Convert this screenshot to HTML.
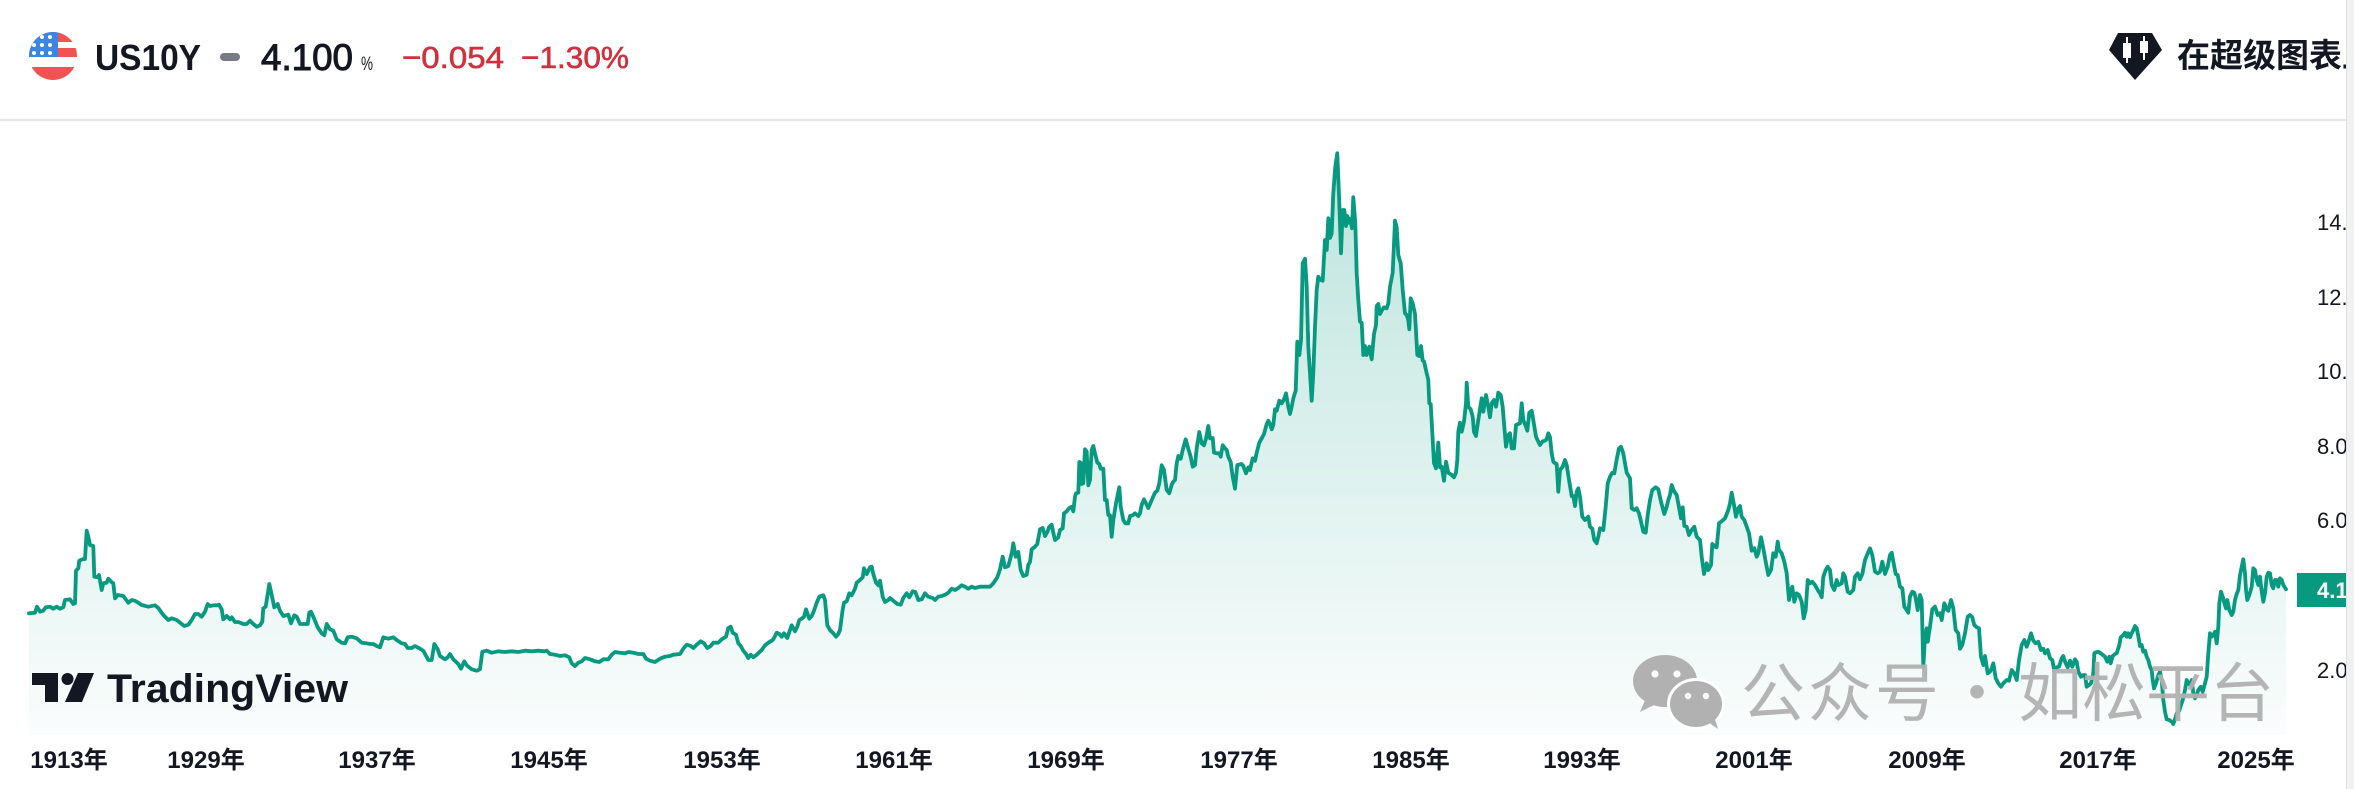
<!DOCTYPE html>
<html><head><meta charset="utf-8">
<style>
html,body{margin:0;padding:0;background:#fff;}
body{width:2354px;height:789px;overflow:hidden;}
svg{display:block;}
.lat{font-family:"Liberation Sans","Noto Sans CJK SC",sans-serif;}
.cjk{font-family:"Noto Sans CJK SC","WenQuanYi Zen Hei",sans-serif;}
</style></head>
<body>
<svg id="s" width="2354" height="789" viewBox="0 0 2354 789" xmlns="http://www.w3.org/2000/svg">
<defs>
<linearGradient id="fg" gradientUnits="userSpaceOnUse" x1="0" y1="150" x2="0" y2="735">
<stop offset="0" stop-color="#089981" stop-opacity="0.27"/>
<stop offset="1" stop-color="#089981" stop-opacity="0.02"/>
</linearGradient>
<clipPath id="fc"><circle cx="53" cy="56" r="24"/></clipPath>
</defs>
<rect x="0" y="0" width="2354" height="789" fill="#fff"/>

<!-- header -->
<g clip-path="url(#fc)">
<rect x="28" y="31" width="52" height="50" fill="#ffffff"/>
<rect x="28" y="31" width="52" height="11" fill="#f15353"/>
<rect x="28" y="48" width="52" height="9" fill="#f15353"/>
<rect x="28" y="67" width="52" height="14" fill="#f15353"/>
<rect x="28" y="31" width="30" height="26" fill="#3a86e2"/>
<g fill="#fff">
<circle cx="34" cy="37" r="2"/><circle cx="42" cy="37" r="2"/><circle cx="50" cy="37" r="2"/>
<circle cx="34" cy="45" r="2"/><circle cx="42" cy="45" r="2"/><circle cx="50" cy="45" r="2"/>
<circle cx="34" cy="53" r="2"/><circle cx="42" cy="53" r="2"/><circle cx="50" cy="53" r="2"/>
</g>
</g>
<text class="lat" x="95" y="70" font-size="36" font-weight="bold" fill="#131722" textLength="106" lengthAdjust="spacingAndGlyphs">US10Y</text>
<rect x="220" y="53" width="20" height="8" rx="4" fill="#787b86"/>
<text class="lat" x="261" y="70" font-size="37" fill="#131722" textLength="92" lengthAdjust="spacingAndGlyphs" stroke="#131722" stroke-width="1">4.100</text>
<text class="lat" x="361" y="70" font-size="19" fill="#131722" textLength="12" lengthAdjust="spacingAndGlyphs">%</text>
<text class="lat" x="402" y="68" font-size="31" fill="#cf313e" textLength="102" lengthAdjust="spacingAndGlyphs" stroke="#cf313e" stroke-width="0.6">−0.054</text>
<text class="lat" x="521" y="68" font-size="31" fill="#cf313e" textLength="108" lengthAdjust="spacingAndGlyphs" stroke="#cf313e" stroke-width="0.6">−1.30%</text>

<polygon points="2118,33 2152,33 2162,50 2135,80 2109,50" fill="#131722"/>
<g fill="#fff">
<rect x="2126" y="37" width="2" height="26"/><rect x="2123" y="43" width="8" height="15"/>
<rect x="2143" y="36" width="2" height="24"/><rect x="2140" y="41" width="8" height="12"/>
</g>
<text class="cjk" x="2177" y="67" font-size="33" font-weight="bold" fill="#131722">在超级图表上打开</text>

<rect x="0" y="119" width="2354" height="2" fill="#e6e6e9"/>

<!-- series -->
<path id="fillp" d="" fill="url(#fg)"/>
<path id="linep" d="" fill="none" stroke="#089981" stroke-width="3.8" stroke-linejoin="round" stroke-linecap="round"/>

<!-- TradingView logo -->
<g fill="#131722">
<rect x="32" y="673" width="26" height="12"/>
<rect x="45" y="673" width="13" height="29"/>
<circle cx="67.5" cy="679" r="6"/>
<polygon points="78,673 94,673 82,702 65,702"/>
</g>
<text class="lat" x="107" y="702" font-size="40" font-weight="bold" fill="#131722" textLength="241" lengthAdjust="spacingAndGlyphs">TradingView</text>

<!-- watermark -->
<g>
<ellipse cx="1665" cy="681" rx="32" ry="26" fill="#b1b1b1"/>
<polygon points="1646,698 1640,712 1658,703" fill="#b1b1b1"/>
<circle cx="1655" cy="674" r="3.6" fill="#fff"/>
<circle cx="1677" cy="674" r="3.6" fill="#fff"/>
<ellipse cx="1696" cy="704" rx="29" ry="26" fill="#fff"/>
<ellipse cx="1696" cy="704" rx="26" ry="23" fill="#b1b1b1"/>
<polygon points="1708,722 1718,729 1714,716" fill="#b1b1b1"/>
<circle cx="1688" cy="696" r="3.2" fill="#fff"/>
<circle cx="1706" cy="696" r="3.2" fill="#fff"/>
</g>
<g class="cjk" fill="#b0b0b0" font-size="64" fill-opacity="0.95">
<text x="1741" y="716" letter-spacing="3">公众号</text>
<text x="1977" y="716" text-anchor="middle">·</text>
<text x="2018" y="716">如松平台</text>
</g>

<!-- price axis -->
<g class="lat" font-size="22" fill="#131722">
<text x="2317" y="230">14.00</text>
<text x="2317" y="305">12.00</text>
<text x="2317" y="379">10.00</text>
<text x="2317" y="454">8.00</text>
<text x="2317" y="528">6.00</text>
<text x="2317" y="678">2.00</text>
</g>
<rect x="2297" y="573" width="60" height="34" fill="#089981"/>
<text class="lat" x="2317" y="598" font-size="22" fill="#fff" font-weight="bold">4.100</text>

<!-- time axis -->
<g class="lat" font-size="24" font-weight="bold" fill="#131722" text-anchor="middle">
<text x="69" y="768">1913年</text>
<text x="206" y="768">1929年</text>
<text x="377" y="768">1937年</text>
<text x="549" y="768">1945年</text>
<text x="722" y="768">1953年</text>
<text x="894" y="768">1961年</text>
<text x="1066" y="768">1969年</text>
<text x="1239" y="768">1977年</text>
<text x="1411" y="768">1985年</text>
<text x="1582" y="768">1993年</text>
<text x="1754" y="768">2001年</text>
<text x="1927" y="768">2009年</text>
<text x="2098" y="768">2017年</text>
<text x="2256" y="768">2025年</text>
</g>

<!-- scrollbar -->
<rect x="2346" y="0" width="8" height="789" fill="#f1f1f1"/>
<rect x="2346" y="0" width="1" height="789" fill="#e2e2e2"/>
</svg>
<script>
(function(){
var segs=[
[25,480,[12,400,30,398,36,380,45,395,55,392,62,382,75,380,85,386,95,380,105,386,115,382,120,360,135,358,145,372,150,370,153,272,160,265,163,242,172,238,180,237,185,152,190,170,195,195,205,198,208,290,218,292,222,285,230,330,235,310,245,308,250,296,258,305,265,310,270,355,278,345,295,348,310,368,320,360,330,362,340,368,350,375,370,380,390,376,400,384,415,405,430,420,440,415,455,420,470,432,478,438,490,434,500,420,510,402,520,402,530,410,540,395,548,372,555,378,565,376,575,376,582,374,590,388,595,418,605,408,615,418,620,412,630,426,640,426,655,432,665,432,675,422,685,432,695,440,705,436,712,425,715,385,722,380,733,312,740,345,748,382,758,372,765,392,775,408,790,404,798,430,808,406,815,410,825,432,835,432,848,432,853,398,858,395,865,410,878,442,890,460,898,466,905,432,915,448,925,452,935,478,950,488,960,490,968,472,980,470,995,475,1010,488,1025,490,1035,492,1045,492,1055,498,1065,502,1075,472,1090,476,1105,472,1115,480,1130,490,1140,492,1148,504,1160,504,1170,498,1185,506,1195,512,1210,540,1220,540,1228,492,1238,508,1245,528,1260,538,1268,532,1275,522,1285,538,1300,552,1308,566,1318,544,1325,556,1340,568,1355,572,1365,568,1372,515,1385,512,1400,518,1420,514,1440,516,1460,514,1480,516,1500,512,1520,514,1540,512,1558,514]],
[540,400,[0,752,20,752,30,762,45,764,60,768,75,766,88,772,95,790,105,798,115,788,125,784,135,774,150,778,165,784,178,786,190,778,205,778,215,764,225,756,240,758,255,760,265,756,280,758,295,762,310,762,318,776,330,782,345,786,360,776,375,770,390,768,400,764,420,762,430,746,440,734,452,738,460,744,470,734,482,724,492,730,502,744,512,738,520,728,535,728,545,718,558,710,565,684,572,680,578,698,588,704,595,730,602,738,610,752,618,762,625,774,632,764,640,772,650,764,665,750,675,736,685,728,695,722,700,718,710,698,718,702,725,710,732,700,742,714,750,690,755,676,765,694,772,680,778,660,785,656,792,650,798,628,808,656,815,648,822,632,830,608,838,590,850,586,855,600,862,676,870,690,880,700,888,710,895,702,900,690,908,628,912,608,920,604,928,580,935,586,945,566,950,548,960,540,968,532,972,505,980,522,990,502,995,500,1000,522,1008,548,1015,556,1020,542,1028,590,1035,606,1045,600,1050,594,1062,604,1072,612,1082,614,1090,594,1100,580,1108,592,1118,574,1126,576,1135,600,1145,598,1155,580,1165,590,1178,594,1185,600,1195,590,1205,588,1215,584,1225,578,1235,566,1245,570,1255,564,1265,556,1275,560,1285,566,1295,560,1305,564,1320,560,1335,560,1350,560,1360,550,1372,532,1380,508,1388,470,1395,502,1405,498,1415,460,1420,430,1427,470,1435,456,1442,510,1450,528,1460,524,1465,494,1470,486,1475,448,1485,440,1492,432,1500,388,1508,384,1515,408,1522,396,1528,380,1535,374,1540,398,1545,420,1555,412,1560,390]],
[1060,140,[0,1190,8,1165,12,1120,20,1114,28,1104,35,1100,40,1114,45,1070,48,1060,55,1058,58,966,62,968,65,1032,70,1030,75,928,80,935,85,1036,90,1020,95,930,100,918,105,940,112,968,118,972,122,986,130,986,135,1080,140,1080,145,1125,150,1126,155,1190,160,1140,168,1090,178,1042,182,1100,190,1140,196,1150,205,1150,210,1128,218,1126,225,1120,235,1128,240,1120,245,1094,252,1078,258,1090,265,1104,275,1080,285,1058,292,1052,298,1030,305,976,312,990,320,1050,328,1060,335,1034,340,1025,345,1020,350,970,355,948,362,956,368,930,377,898,385,926,392,950,398,980,405,975,410,925,418,876,425,910,432,916,438,896,445,858,450,895,458,894,462,938,470,940,478,940,482,950,488,916,495,925,500,930,505,950,512,966,518,1010,525,1046,532,975,545,972,550,978,558,1000,565,982,570,990,578,955,585,962,590,938,598,908,605,895,612,882,620,852,625,842,630,852,635,868,640,855,645,808,650,812,658,782,665,790,672,778,678,760,685,800,690,822,695,800,700,775,707,752,712,605,718,645,723,600,728,370,735,356,740,440,745,620,750,700,755,782,760,700,765,560,770,450,775,410,782,420,788,422,795,300,800,330,805,235,810,294,815,280,820,160,826,80,832,40,838,190,843,340,848,210,853,210,858,258,862,228,866,248,870,236,876,265,880,172,886,250,890,400,895,480,900,545,905,548,910,645,915,618,920,645,928,620,935,658,942,582,948,555,950,498,955,492,960,522,965,512,972,502,980,505,985,490,990,440,998,398,1005,242,1010,262,1015,345,1022,370,1028,450,1035,520,1040,525,1045,540,1048,568,1052,475,1058,490,1065,522,1070,612,1072,645,1078,648,1083,618,1088,662,1092,664,1100,700,1105,720,1108,790,1112,792,1118,900,1122,970,1128,985,1135,908,1140,982,1145,980,1152,1022,1158,965,1165,998,1175,1005,1182,1012,1188,998,1192,960,1195,875,1200,848,1205,875,1212,845,1218,790,1220,728,1225,800,1232,808,1238,830,1242,876,1248,888,1252,860,1258,820,1265,775,1270,815,1278,765,1285,800,1290,832,1295,790,1302,780,1308,800,1315,758,1322,765,1328,800,1332,850,1338,920,1345,885,1350,880,1355,925,1362,925,1368,855,1375,852,1380,850,1385,790,1390,840,1398,860,1402,872,1408,818,1415,812,1420,840,1428,890,1435,905,1440,915,1448,904,1455,902,1460,898,1465,880,1470,892,1475,940,1480,965,1485,970,1490,972,1495,1055,1500,990,1508,980,1515,960,1520,975,1528,1025,1535,1068,1540,1068,1545,1098,1550,1055,1555,1045,1560,1070]],
[1575,420,[0,255,8,205,15,230,22,290,30,300,40,290,45,320,52,326,58,360,65,370,70,350,75,325,85,330,92,260,98,190,105,170,112,158,118,160,125,118,132,85,138,80,145,100,150,130,155,158,165,175,170,265,178,270,185,265,192,280,198,305,205,335,212,338,218,285,225,240,232,210,242,202,250,208,258,245,268,282,275,260,280,240,285,225,290,195,298,215,305,225,312,262,318,295,323,262,328,318,335,320,342,345,350,330,358,320,365,350,375,360,380,410,387,462,395,430,400,450,408,435,412,372,420,380,425,382,432,310,442,302,450,295,460,270,465,250,470,218,478,260,483,290,490,265,495,258,500,290,508,300,515,320,522,340,530,392,538,385,545,410,550,400,558,352,565,385,572,425,580,465,588,450,595,400,602,410,608,365,612,390,620,400,628,425,635,460,642,540,648,512,652,500,658,545,665,520,672,525,680,545,686,595,692,570,698,480,705,490,712,485,720,495,728,510,735,520,740,532,745,470,752,450,758,440,765,450,770,495,778,510,785,480,790,495,800,490,805,460,810,470,818,515,825,520,835,510,840,470,848,460,855,478,862,462,870,420,878,400,885,385,892,405,900,455,908,460,915,455,922,425,930,462,938,440,945,405,950,398,958,440,962,462,968,465,975,500,982,505,988,560,995,570,1000,578,1005,530,1012,515,1018,518,1022,535,1028,570,1035,525,1040,540,1045,740,1050,650,1055,625,1058,665,1065,620,1072,568,1080,560,1088,585,1095,580,1100,600,1108,550,1115,568,1120,572,1128,540,1135,565,1142,630,1150,640,1155,686,1162,675,1170,640,1178,590,1185,585,1192,592,1198,615,1205,622,1212,625,1218,710,1225,735,1230,708,1238,760,1245,755,1250,745,1255,730,1262,775,1270,790,1278,800,1285,790,1295,780,1302,782,1310,750,1318,760,1325,780,1332,720,1340,675,1348,660,1355,680,1362,660,1368,640,1375,662,1382,670,1390,665,1398,690,1405,686,1410,700,1418,690,1425,715,1432,720,1438,752,1445,742,1452,740,1460,715,1465,708,1470,725,1478,742,1485,722,1492,740,1500,718,1505,725,1510,755,1518,770,1525,765,1530,765,1535,800,1542,795,1548,790,1555,760,1558,700]],
[2090,520,[0,490,8,440,15,398,25,395,35,402,45,410,52,425,58,410,62,430,68,408,75,402,80,400,88,375,92,352,100,345,105,338,110,350,115,340,120,352,125,340,130,330,135,318,140,325,145,348,150,378,155,375,160,395,165,392,170,410,175,420,180,440,185,450,188,480,192,505,198,490,205,465,210,455,215,480,220,540,225,575,230,598,238,600,245,605,250,612,255,598,260,580,268,572,272,558,278,540,285,510,290,480,295,490,300,495,305,480,310,520,315,535,320,525,325,510,332,500,338,515,345,490,350,470,355,400,360,340,365,350,370,345,375,335,380,370,385,320,388,250,393,215,398,230,402,245,408,265,412,240,418,270,425,285,430,275,435,240,440,222,445,210,450,165,455,140,460,118,465,160,468,210,472,240,478,225,485,200,490,145,495,150,500,180,505,195,510,170,515,215,520,245,525,220,530,170,535,158,540,160,545,195,550,205,555,180,560,180,565,200,570,175,575,180,580,195,588,208]]
];
var pts=[],lastX=-1e9;
for(var s=0;s<segs.length;s++){
  var x0=segs[s][0],y0=segs[s][1],a=segs[s][2],bound=lastX;
  for(var i=0;i<a.length;i+=2){
    var x=x0+a[i]/3,y=y0+a[i+1]/3;
    if(x>bound+0.01){pts.push([x,y]);if(x>lastX)lastX=x;}
  }
}
var d='';
for(var j=0;j<pts.length;j++){d+=(j?'L':'M')+pts[j][0].toFixed(1)+','+pts[j][1].toFixed(1);}
document.getElementById('linep').setAttribute('d',d);
var f='M'+pts[0][0].toFixed(1)+',735L'+d.slice(1)+'L'+pts[pts.length-1][0].toFixed(1)+',735Z';
document.getElementById('fillp').setAttribute('d',f);
})();
</script>
</body></html>
